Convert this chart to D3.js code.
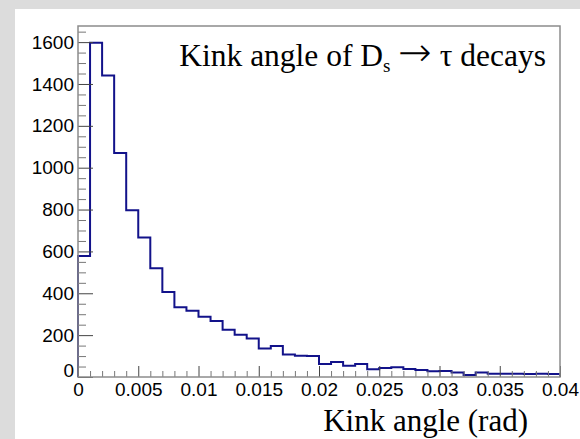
<!DOCTYPE html>
<html>
<head>
<meta charset="utf-8">
<script src="https://cdn.jsdelivr.net/npm/d3@7"></script>
<style>
  body { margin: 0; background: #dcdcdc; }
  svg { display: block; }
  .tick text { font-family: "Liberation Sans", Arial, sans-serif; font-size: 19px; fill: #000; }
</style>
</head>
<body>
<svg width="580" height="439"></svg>
<script>
// **** Data ****

// bin counts, 40 bins of 0.001 rad from 0 to 0.04
var binLow = 0, binWidth = 0.001;
var counts = [578, 1597, 1440, 1070, 797, 667, 519, 406, 333, 317,
              288, 267, 226, 202, 184, 136, 148, 108, 101, 100,
              62, 72, 54, 62, 37, 43, 47, 38, 33, 27,
              29, 22, 9, 21, 16, 15, 16, 14, 15, 14];

var xTicks = [0, 0.005, 0.01, 0.015, 0.02, 0.025, 0.03, 0.035, 0.04];
var xTickLabels = ["0", "0.005", "0.01", "0.015", "0.02", "0.025", "0.03", "0.035", "0.04"];
var xMinor = d3.range(0, 41).map(function(i) { return i / 1000; });
var yTicks = [0, 200, 400, 600, 800, 1000, 1200, 1400, 1600];
var yMinor = d3.range(0, 1651, 50);

// **** Scales ****

var xScale = d3.scaleLinear().domain([0, 0.04]).range([78, 560]);
var yScale = d3.scaleLinear().domain([0, 1677]).range([377, 26]);

var svg = d3.select('svg');

// white pad
svg.append('rect')
    .attr('x', 15).attr('y', 9)
    .attr('width', 565).attr('height', 430)
    .style('fill', '#fff');

// **** Histogram outline ****

var pts = [[xScale(binLow), yScale(0)]];
counts.forEach(function(c, i) {
    var lo = binLow + i * binWidth, hi = lo + binWidth;
    pts.push([xScale(lo), yScale(c)]);
    pts.push([xScale(hi), yScale(c)]);
});
pts.push([xScale(binLow + counts.length * binWidth), yScale(0)]);

svg.append('path')
    .attr('d', d3.line()(pts))
    .style('fill', 'none')
    .style('stroke', '#12128a')
    .style('stroke-width', 2);

// **** Axes (ROOT style, ticks pointing inward) ****

var yMajor = svg.append('g').attr('class', 'y axis')
    .attr('transform', 'translate(78,0)')
    .call(d3.axisLeft(yScale).tickValues(yTicks).tickSize(-15).tickPadding(4)
        .tickFormat(d3.format('d')));
yMajor.select('.domain').remove();
yMajor.selectAll('.tick line').style('stroke', '#444');
yMajor.selectAll('.tick text').filter(function(d) { return d === 0; })
    .attr('dy', '-0.05em');

var yMin = svg.append('g')
    .attr('transform', 'translate(78,0)')
    .call(d3.axisLeft(yScale).tickValues(yMinor.filter(function(v) { return v % 200 !== 0; }))
        .tickSize(-8).tickFormat(''));
yMin.select('.domain').remove();
yMin.selectAll('.tick line').style('stroke', '#777');

var xMajor = svg.append('g').attr('class', 'x axis')
    .attr('transform', 'translate(0,377)')
    .call(d3.axisBottom(xScale).tickValues(xTicks).tickSize(-11).tickPadding(6)
        .tickFormat(function(d, i) { return xTickLabels[i]; }));
xMajor.select('.domain').remove();
xMajor.selectAll('.tick line').style('stroke', '#444');

var xMin = svg.append('g')
    .attr('transform', 'translate(0,377)')
    .call(d3.axisBottom(xScale).tickValues(xMinor.filter(function(v, i) { return i % 5 !== 0; }))
        .tickSize(-6).tickFormat(''));
xMin.select('.domain').remove();
xMin.selectAll('.tick line').style('stroke', '#777');

// frame
svg.append('rect')
    .attr('x', 78).attr('y', 26)
    .attr('width', 482).attr('height', 351)
    .style('fill', 'none')
    .style('stroke', '#8c8c8c')
    .style('stroke-width', 1.5);

// **** Texts ****

var serif = '"Liberation Serif", "Times New Roman", serif';

var title = svg.append('text')
    .attr('x', 546).attr('y', 66)
    .attr('text-anchor', 'end')
    .style('font-family', serif)
    .style('font-size', '31.5px');
title.append('tspan').text('Kink angle of D');
title.append('tspan').attr('dy', 6).style('font-size', '19px').text('s');
title.append('tspan').attr('dy', -6).text(' ');
title.append('tspan')
    .style('font-family', '"DejaVu Sans", sans-serif')
    .style('font-size', '40px')
    .style('font-weight', 200)
    .text('\u2192');
title.append('tspan').text(' \u03c4 decays');

svg.append('text')
    .attr('x', 528).attr('y', 431)
    .attr('text-anchor', 'end')
    .style('font-family', serif)
    .style('font-size', '31px')
    .text('Kink angle (rad)');
</script>
</body>
</html>
